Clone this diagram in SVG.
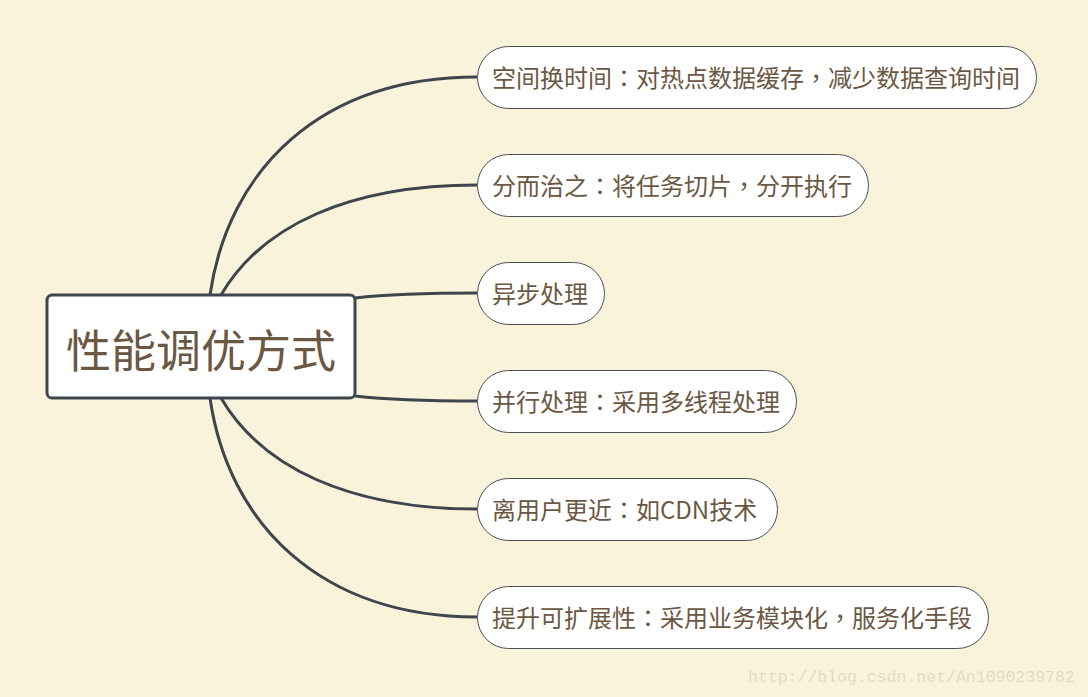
<svg xmlns="http://www.w3.org/2000/svg" width="1088" height="697" viewBox="0 0 1088 697">
<style>
.bg{fill:#faf3dc}
.edge{fill:none;stroke:#3e454b;stroke-width:3}
.pill{fill:#ffffff;stroke:#4a4f54;stroke-width:1}
.t{font-family:"Noto Sans CJK SC","Noto Sans",sans-serif;fill:#6b5843;font-size:24px}
.p{font-family:"Noto Sans CJK TC","Noto Sans CJK SC",sans-serif}
.root{fill:#ffffff;stroke:#3e464e;stroke-width:3}
.rt{font-family:"Noto Sans CJK SC","Noto Sans",sans-serif;fill:#6b5843;font-size:45px;text-anchor:middle}
.wm{font-family:"Liberation Mono",monospace;fill:#e2dac8;font-size:16.5px}
</style>
<rect class="bg" x="0" y="0" width="1088" height="697"/>
<g id="connectors">
<path class="edge" d="M210,295 C228,170 320,77 477,77"/>
<path class="edge" d="M221,295 C262,225 350,185 477,185"/>
<path class="edge" d="M355,298 C390,294 430,293 477,293"/>
<path class="edge" d="M355,396 C390,400 430,401 477,401"/>
<path class="edge" d="M221,398 C262,468 350,509 477,509"/>
<path class="edge" d="M210,398 C228,523 320,617 477,617"/>
</g>
<g id="root">
<rect class="root" x="47" y="295" width="308" height="103" rx="5"/>
<text class="rt" x="201" y="368">性能调优方式</text>
</g>
<g id="n1">
<rect class="pill" x="477.5" y="46.5" width="559" height="62" rx="31"/>
<text class="t" x="492" y="87">空间换时间<tspan class="p">：</tspan>对热点数据缓存<tspan class="p">，</tspan>减少数据查询时间</text>
</g>
<g id="n2">
<rect class="pill" x="477.5" y="154.5" width="391" height="62" rx="31"/>
<text class="t" x="492" y="195">分而治之<tspan class="p">：</tspan>将任务切片<tspan class="p">，</tspan>分开执行</text>
</g>
<g id="n3">
<rect class="pill" x="477.5" y="262.5" width="127" height="62" rx="31"/>
<text class="t" x="492" y="303">异步处理</text>
</g>
<g id="n4">
<rect class="pill" x="477.5" y="370.5" width="319" height="62" rx="31"/>
<text class="t" x="492" y="411">并行处理<tspan class="p">：</tspan>采用多线程处理</text>
</g>
<g id="n5">
<rect class="pill" x="477.5" y="478.5" width="300" height="62" rx="31"/>
<text class="t" x="492" y="519">离用户更近<tspan class="p">：</tspan>如CDN技术</text>
</g>
<g id="n6">
<rect class="pill" x="477.5" y="586.5" width="511" height="62" rx="31"/>
<text class="t" x="492" y="627">提升可扩展性<tspan class="p">：</tspan>采用业务模块化<tspan class="p">，</tspan>服务化手段</text>
</g>
<text class="wm" x="748" y="682">http://blog.csdn.net/An1090239782</text>
</svg>
